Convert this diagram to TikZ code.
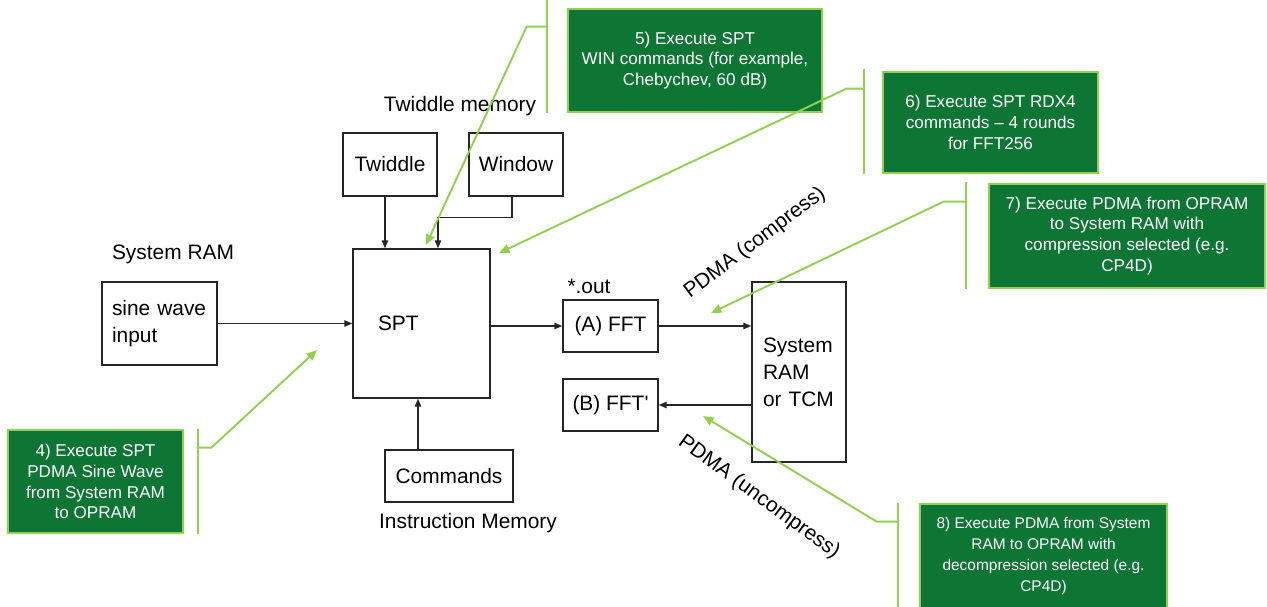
\documentclass[tikz,border=0pt]{standalone}
\usepackage{fontspec}
\setmainfont{Liberation Sans}
\usepackage{xcolor}
\usepackage{tikz}
\usetikzlibrary{arrows.meta,positioning,calc}

\definecolor{callfill}{RGB}{14,118,52}
\definecolor{callline}{RGB}{146,208,80}

\begin{document}
\begin{tikzpicture}[
    x=0.02cm, y=-0.02cm,
    blkbox/.style={rectangle, draw=black!85, line width=0.8pt, inner sep=0pt,
                font=\fontsize{11.9}{15.3}\selectfont, align=center},
    callout/.style={rectangle, draw=callline, line width=1.6pt, fill=callfill,
                text=white, inner sep=0pt,
                font=\fontsize{9.75}{11.9}\selectfont, align=center},
    lbl/.style={font=\fontsize{11.9}{15.3}\selectfont, inner sep=0pt},
    flow/.style={draw=black!85, line width=0.8pt, -{Triangle[length=4.5pt,width=3.6pt]}},
    hint/.style={draw=callline, line width=1.1pt},
    hintarr/.style={hint, -{Triangle[length=6pt,width=5pt]}},
]
\useasboundingbox (0,0) rectangle (1267,606);

\node[blkbox, minimum width=1.88cm, minimum height=1.26cm] (tw) at (390,164.5) {Twiddle};
\node[blkbox, minimum width=1.88cm, minimum height=1.26cm] (win) at (516,164.5) {Window};
\node[lbl] at (460,106) {Twiddle memory};

\node[blkbox, minimum width=2.74cm, minimum height=2.98cm,
      text width=1.74cm, inner xsep=0.5cm, align=left] (spt) at (421.5,323.5) {SPT};

\node[lbl] at (173,254) {System RAM};
\node[blkbox, minimum width=2.3cm, minimum height=1.66cm,
      text width=1.9cm, inner xsep=0.2cm, align=left] (sine) at (159.5,323.5) {sine wave\\input};

\node[lbl] at (589,286) {*.out};
\node[blkbox, minimum width=1.9cm, minimum height=1.04cm] (ffta) at (610.5,326) {(A) FFT};
\node[blkbox, minimum width=1.9cm, minimum height=1.04cm] (fftb) at (610.5,405) {(B) FFT\textquotesingle};

\node[blkbox, minimum width=1.88cm, minimum height=3.6cm,
      text width=1.44cm, inner xsep=0.22cm, align=left] (sram) at (799,372) {System\\RAM\\or TCM};

\node[blkbox, minimum width=2.56cm, minimum height=1.04cm] (cmd) at (449,476) {Commands};
\node[lbl] at (468,523) {Instruction Memory};

\node[lbl, rotate=37] at (755,243) {PDMA (compress)};
\node[lbl, rotate=-36] at (759,497) {PDMA (uncompress)};

% data flow
\coordinate (twout) at ($(tw.south)+(-5,0)$);
\coordinate (winin) at ($(spt.north)+(16.5,0)$);
\coordinate (cmdout) at ($(cmd.north)+(-31,0)$);
\draw[flow] (sine.east |- spt) -- (spt.west);
\draw[flow] (spt.east |- ffta) -- (ffta.west);
\draw[flow] (ffta.east) -- (ffta.east -| sram.west);
\draw[flow] (fftb.east -| sram.west) -- (fftb.east);
\draw[flow] (twout) -- (twout |- spt.north);
\draw[flow] ($(win.south)+(-4,0)$) -- ++(0,21) -| (winin);
\draw[flow] (cmdout) -- (cmdout |- spt.south);

% steps
\node[callout, minimum width=3.5cm, minimum height=2.06cm] (c4) at (95.5,481.5)
    {4) Execute SPT\\PDMA Sine Wave\\from System RAM\\to OPRAM};
\node[callout, minimum width=5.08cm, minimum height=2.06cm] (c5) at (695,60.5)
    {5) Execute SPT\\WIN commands (for example,\\Chebychev, 60 dB)};
\node[callout, minimum width=4.3cm, minimum height=2.02cm] (c6) at (990.5,122.5)
    {6) Execute SPT RDX4\\commands -- 4 rounds\\for FFT256};
\node[callout, minimum width=5.52cm, minimum height=2.08cm] (c7) at (1127,236)
    {7) Execute PDMA from OPRAM\\to System RAM with\\compression selected (e.g.\\CP4D)};
\node[callout, minimum width=4.94cm, minimum height=2.08cm,
      font=\fontsize{8.8}{11.9}\selectfont] (c8) at (1043.5,556)
    {8) Execute PDMA from System\\RAM to OPRAM with\\decompression selected (e.g.\\CP4D)};

\coordinate (t4) at (317,350);
\coordinate (t5) at (426,245);
\coordinate (t6) at (499,253);
\coordinate (t7) at (711,313);
\coordinate (t8) at (703,416);

\draw[hint] ($(c4.north east)+(14,0)$) -- ($(c4.south east)+(14,0)$);
\draw[hintarr] ($(c4.north east)+(14,19)$) -- ++(13,0) -- (t4);
\draw[hint] ($(c5.north west)+(-20,-9)$) -- ($(c5.south west)+(-20,0)$);
\draw[hintarr] ($(c5.north west)+(-20,19)$) -- ++(-20,0) -- (t5);
\draw[hint] ($(c6.north west)+(-18,-2)$) -- ($(c6.south west)+(-18,0)$);
\draw[hintarr] ($(c6.north west)+(-18,18)$) -- ++(-17,0) -- (t6);
\draw[hint] ($(c7.north west)+(-22,-1)$) -- ($(c7.south west)+(-22,0)$);
\draw[hintarr] ($(c7.north west)+(-22,19)$) -- ++(-22,0) -- (t7);
\draw[hint] ($(c8.north west)+(-21,0)$) -- ($(c8.south west)+(-21,0)$);
\draw[hintarr] ($(c8.north west)+(-21,19)$) -- ++(-21,0) -- (t8);

\end{tikzpicture}
\end{document}
